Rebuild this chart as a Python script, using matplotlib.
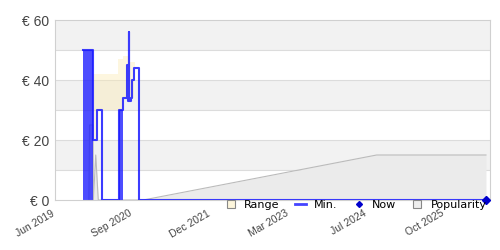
import matplotlib
matplotlib.use("Agg")
import matplotlib.pyplot as plt
import matplotlib.transforms as mtransforms
from matplotlib.lines import Line2D
import pandas as pd

# ---- data ----
min_dates = ["2019-11-13", "2020-01-11", "2020-02-08", "2020-03-06", "2020-06-19",
             "2020-07-13", "2020-08-03", "2020-08-08", "2020-08-14", "2020-08-18",
             "2020-08-28", "2020-09-03", "2020-09-12", "2020-10-14", "2026-06-14"]
min_values = [50, 20, 30, 0, 30, 34, 45, 33, 56, 33, 34, 40, 44, 0, 0]

dense_start = ["2019-11-13", "2020-06-19"]
dense_end = ["2020-01-11", "2020-07-13"]
dense_top = [50, 30]

range_dates = ["2019-11-13", "2020-01-11", "2020-02-08", "2020-03-06",
               "2020-06-13", "2020-06-19", "2020-07-13", "2020-08-03", "2020-08-18", "2020-09-12", "2020-09-21"]
range_low = [50, 20, 30, 30, 30, 30, 34, 33, 34, 44, 44]
range_high = [50, 42, 42, 42, 47, 47, 48, 48, 46, 46, 46]

pop_dates = ["2019-12-20", "2019-12-24", "2020-01-14", "2020-01-16", "2020-01-30", "2020-02-14",
             "2020-11-08", "2024-08-31", "2026-06-14"]
pop_values = [0, 25, 25, 0, 15, 0, 0, 15, 15]

now_date = "2026-06-14"
now_value = 0

y_ticks = [0, 20, 40, 60]
y_labels = ["€ 0", "€ 20", "€ 40", "€ 60"]
x_tick_dates = ["2019-06-01", "2020-09-08", "2021-12-17", "2023-03-27", "2024-07-04", "2025-10-11"]
x_tick_labels = ["Jun 2019", "Sep 2020", "Dec 2021", "Mar 2023", "Jul 2024", "Oct 2025"]

# ---- figure ----
fig = plt.figure(figsize=(5, 2.5), dpi=100)
ax = fig.add_axes([55/500, 1-200/250, 435/500, 180/250])

x0 = pd.Timestamp("2019-06-01")
x1 = pd.Timestamp("2026-07-08")
ax.set_xlim(x0, x1)
ax.set_ylim(0, 60)

# background bands
for lo in (10, 30, 50):
    ax.axhspan(lo, lo + 10, color="#f2f2f2", zorder=0, lw=0)
for yv in range(10, 60, 10):
    ax.axhline(yv, color="#dcdcdc", lw=0.8, zorder=0.5)

md = pd.to_datetime(min_dates)
pdt = pd.to_datetime(pop_dates)
rd = pd.to_datetime(range_dates)

# popularity
ax.fill_between(pdt, 0, pop_values, color="#ebebeb", zorder=1, lw=0)
ax.plot(pdt, pop_values, color="#bbbbbb", lw=0.8, zorder=1.1)

# range
ax.fill_between(rd, range_low, range_high, step="post", color="#fce9b0", alpha=0.4, zorder=1.5, lw=0)

# dense min fills
for s, e, t in zip(dense_start, dense_end, dense_top):
    ax.fill_between([pd.Timestamp(s), pd.Timestamp(e)], 0, t, color="#2020ff", alpha=0.8, zorder=2, lw=0)

# min step
ax.step(md, min_values, where="post", color="#1a1aff", lw=1.5, alpha=0.85, zorder=3)

# now
ax.plot([pd.Timestamp(now_date)], [now_value], marker="D", color="#0000cc", ms=4.5, zorder=4, clip_on=False, ls="none")

# axes styling
for sp in ax.spines.values():
    sp.set_color("#d0d0d0")
    sp.set_linewidth(0.8)
ax.set_yticks(y_ticks)
ax.set_yticklabels(y_labels, fontsize=10, color="#444444", family="Liberation Sans")
ax.set_xticks(pd.to_datetime(x_tick_dates))
ax.set_xticklabels(x_tick_labels, rotation=30, ha="right", rotation_mode="anchor",
                   fontsize=7.5, color="#444444", family="Liberation Sans")
ax.tick_params(axis="both", length=0, pad=4)
ax.tick_params(axis="x", pad=6)
offset = mtransforms.ScaledTranslation(-4/100, 0, fig.dpi_scale_trans)
for lab in ax.get_xticklabels():
    lab.set_transform(lab.get_transform() + offset)

handles = [
    Line2D([], [], marker="s", ls="none", markerfacecolor="#fdf6dc", markeredgecolor="#888888", ms=5.5, markeredgewidth=0.8),
    Line2D([], [], color="#4444ff", lw=2),
    Line2D([], [], marker="D", ls="none", color="#0000cc", ms=3),
    Line2D([], [], marker="s", ls="none", markerfacecolor="#eeeeee", markeredgecolor="#888888", ms=5.5, markeredgewidth=0.8),
]
fig.legend(handles, ["Range", "Min.", "Now", "Popularity"], loc="center",
           bbox_to_anchor=(356/500, 1-205/250), ncol=4, frameon=False,
           fontsize=8, handlelength=1.0, columnspacing=1.4, handletextpad=0.7,
           borderpad=0, borderaxespad=0)

fig.savefig("out.png", dpi=100)
